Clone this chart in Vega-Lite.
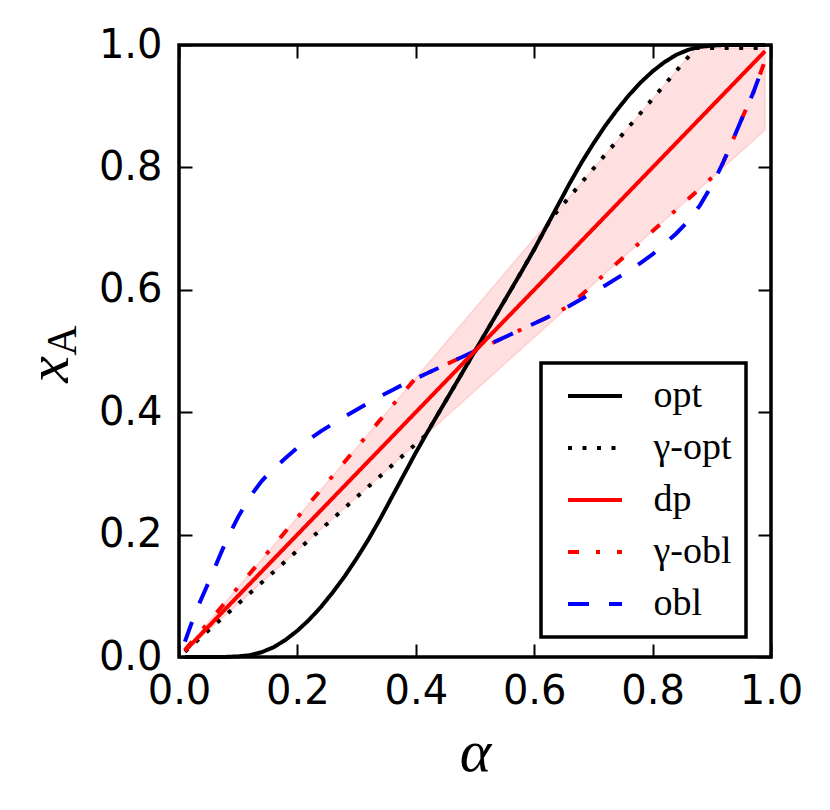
{
  "$schema": "https://vega.github.io/schema/vega-lite/v6.json",
  "width": 592,
  "height": 612,
  "autosize": {"type": "none"},
  "padding": {"left": 179, "top": 45, "right": 59, "bottom": 153},
  "background": "white",
  "config": {
    "view": {"stroke": "black", "strokeWidth": 3.5},
    "axis": {
      "domain": false,
      "grid": false,
      "tickColor": "black",
      "tickWidth": 2,
      "tickSize": -13,
      "labelFont": "DejaVu Sans",
      "labelFontSize": 40,
      "labelColor": "black",
      "titleColor": "black",
      "titleFontWeight": "normal"
    },
    "legend": {
      "title": null,
      "strokeColor": "black",
      "fillColor": "white",
      "cornerRadius": 0,
      "padding": 14,
      "symbolType": "M-2,0H2",
      "symbolSize": 729,
      "symbolStrokeWidth": 4,
      "symbolOffset": 21,
      "labelOffset": 39.5,
      "labelFont": "Liberation Serif",
      "labelFontSize": 38,
      "labelColor": "black",
      "labelLimit": 400,
      "rowPadding": 14
    }
  },
  "datasets": {
    "band": [
      {"x": 0.01, "lo": 0.0087, "hi": 0.0114},
      {"x": 0.5, "lo": 0.435, "hi": 0.57},
      {"x": 0.873, "lo": 0.7595, "hi": 0.995},
      {"x": 0.99, "lo": 0.861, "hi": 0.995}
    ],
    "dpline": [
      {"x": 0.01, "y": 0.01, "s": "dp"},
      {"x": 0.5, "y": 0.5, "s": "dp"},
      {"x": 0.99, "y": 0.99, "s": "dp"}
    ],
    "curves": [
      {"x": 0.01, "y": 0.0, "s": "opt"},
      {"x": 0.05, "y": 0.0, "s": "opt"},
      {"x": 0.08, "y": 0.0002, "s": "opt"},
      {"x": 0.10, "y": 0.001, "s": "opt"},
      {"x": 0.12, "y": 0.003, "s": "opt"},
      {"x": 0.14, "y": 0.008, "s": "opt"},
      {"x": 0.16, "y": 0.016, "s": "opt"},
      {"x": 0.18, "y": 0.028, "s": "opt"},
      {"x": 0.20, "y": 0.043, "s": "opt"},
      {"x": 0.22, "y": 0.061, "s": "opt"},
      {"x": 0.24, "y": 0.082, "s": "opt"},
      {"x": 0.26, "y": 0.106, "s": "opt"},
      {"x": 0.28, "y": 0.132, "s": "opt"},
      {"x": 0.30, "y": 0.161, "s": "opt"},
      {"x": 0.32, "y": 0.192, "s": "opt"},
      {"x": 0.34, "y": 0.226, "s": "opt"},
      {"x": 0.36, "y": 0.262, "s": "opt"},
      {"x": 0.38, "y": 0.298, "s": "opt"},
      {"x": 0.40, "y": 0.334, "s": "opt"},
      {"x": 0.42, "y": 0.368, "s": "opt"},
      {"x": 0.44, "y": 0.401, "s": "opt"},
      {"x": 0.46, "y": 0.434, "s": "opt"},
      {"x": 0.48, "y": 0.467, "s": "opt"},
      {"x": 0.50, "y": 0.5, "s": "opt"},
      {"x": 0.52, "y": 0.533, "s": "opt"},
      {"x": 0.54, "y": 0.566, "s": "opt"},
      {"x": 0.56, "y": 0.599, "s": "opt"},
      {"x": 0.58, "y": 0.632, "s": "opt"},
      {"x": 0.60, "y": 0.666, "s": "opt"},
      {"x": 0.62, "y": 0.702, "s": "opt"},
      {"x": 0.64, "y": 0.738, "s": "opt"},
      {"x": 0.66, "y": 0.774, "s": "opt"},
      {"x": 0.68, "y": 0.808, "s": "opt"},
      {"x": 0.70, "y": 0.839, "s": "opt"},
      {"x": 0.72, "y": 0.868, "s": "opt"},
      {"x": 0.74, "y": 0.894, "s": "opt"},
      {"x": 0.76, "y": 0.918, "s": "opt"},
      {"x": 0.78, "y": 0.939, "s": "opt"},
      {"x": 0.80, "y": 0.957, "s": "opt"},
      {"x": 0.82, "y": 0.972, "s": "opt"},
      {"x": 0.84, "y": 0.984, "s": "opt"},
      {"x": 0.86, "y": 0.992, "s": "opt"},
      {"x": 0.88, "y": 0.997, "s": "opt"},
      {"x": 0.90, "y": 0.999, "s": "opt"},
      {"x": 0.92, "y": 1.0, "s": "opt"},
      {"x": 0.95, "y": 1.0, "s": "opt"},
      {"x": 0.99, "y": 1.0, "s": "opt"},

      {"x": 0.01, "y": 0.0087, "s": "γ-opt"},
      {"x": 0.05, "y": 0.0435, "s": "γ-opt"},
      {"x": 0.10, "y": 0.087, "s": "γ-opt"},
      {"x": 0.20, "y": 0.174, "s": "γ-opt"},
      {"x": 0.30, "y": 0.261, "s": "γ-opt"},
      {"x": 0.40, "y": 0.348, "s": "γ-opt"},
      {"x": 0.415, "y": 0.361, "s": "γ-opt"},
      {"x": 0.42, "y": 0.368, "s": "γ-opt"},
      {"x": 0.44, "y": 0.401, "s": "γ-opt"},
      {"x": 0.46, "y": 0.434, "s": "γ-opt"},
      {"x": 0.48, "y": 0.467, "s": "γ-opt"},
      {"x": 0.50, "y": 0.5, "s": "γ-opt"},
      {"x": 0.52, "y": 0.533, "s": "γ-opt"},
      {"x": 0.54, "y": 0.566, "s": "γ-opt"},
      {"x": 0.56, "y": 0.599, "s": "γ-opt"},
      {"x": 0.58, "y": 0.632, "s": "γ-opt"},
      {"x": 0.60, "y": 0.666, "s": "γ-opt"},
      {"x": 0.62, "y": 0.702, "s": "γ-opt"},
      {"x": 0.63, "y": 0.718, "s": "γ-opt"},
      {"x": 0.70, "y": 0.798, "s": "γ-opt"},
      {"x": 0.80, "y": 0.912, "s": "γ-opt"},
      {"x": 0.873, "y": 0.995, "s": "γ-opt"},
      {"x": 0.90, "y": 0.995, "s": "γ-opt"},
      {"x": 0.99, "y": 0.995, "s": "γ-opt"},

      {"x": 0.01, "y": 0.0114, "s": "γ-obl"},
      {"x": 0.10, "y": 0.114, "s": "γ-obl"},
      {"x": 0.20, "y": 0.228, "s": "γ-obl"},
      {"x": 0.30, "y": 0.342, "s": "γ-obl"},
      {"x": 0.40, "y": 0.456, "s": "γ-obl"},
      {"x": 0.42, "y": 0.464, "s": "γ-obl"},
      {"x": 0.44, "y": 0.473, "s": "γ-obl"},
      {"x": 0.46, "y": 0.482, "s": "γ-obl"},
      {"x": 0.48, "y": 0.491, "s": "γ-obl"},
      {"x": 0.50, "y": 0.5, "s": "γ-obl"},
      {"x": 0.52, "y": 0.509, "s": "γ-obl"},
      {"x": 0.54, "y": 0.518, "s": "γ-obl"},
      {"x": 0.56, "y": 0.527, "s": "γ-obl"},
      {"x": 0.58, "y": 0.536, "s": "γ-obl"},
      {"x": 0.60, "y": 0.545, "s": "γ-obl"},
      {"x": 0.62, "y": 0.554, "s": "γ-obl"},
      {"x": 0.64, "y": 0.564, "s": "γ-obl"},
      {"x": 0.66, "y": 0.574, "s": "γ-obl"},
      {"x": 0.70, "y": 0.609, "s": "γ-obl"},
      {"x": 0.80, "y": 0.696, "s": "γ-obl"},
      {"x": 0.90, "y": 0.783, "s": "γ-obl"},
      {"x": 0.912, "y": 0.793, "s": "γ-obl"},
      {"x": 0.92, "y": 0.81, "s": "γ-obl"},
      {"x": 0.93, "y": 0.832, "s": "γ-obl"},
      {"x": 0.94, "y": 0.855, "s": "γ-obl"},
      {"x": 0.95, "y": 0.878, "s": "γ-obl"},
      {"x": 0.96, "y": 0.90, "s": "γ-obl"},
      {"x": 0.97, "y": 0.922, "s": "γ-obl"},
      {"x": 0.98, "y": 0.948, "s": "γ-obl"},
      {"x": 0.99, "y": 0.975, "s": "γ-obl"},

      {"x": 0.01, "y": 0.025, "s": "obl"},
      {"x": 0.02, "y": 0.052, "s": "obl"},
      {"x": 0.03, "y": 0.078, "s": "obl"},
      {"x": 0.04, "y": 0.10, "s": "obl"},
      {"x": 0.05, "y": 0.122, "s": "obl"},
      {"x": 0.06, "y": 0.145, "s": "obl"},
      {"x": 0.07, "y": 0.168, "s": "obl"},
      {"x": 0.08, "y": 0.19, "s": "obl"},
      {"x": 0.09, "y": 0.21, "s": "obl"},
      {"x": 0.10, "y": 0.229, "s": "obl"},
      {"x": 0.12, "y": 0.262, "s": "obl"},
      {"x": 0.14, "y": 0.288, "s": "obl"},
      {"x": 0.16, "y": 0.308, "s": "obl"},
      {"x": 0.18, "y": 0.325, "s": "obl"},
      {"x": 0.20, "y": 0.342, "s": "obl"},
      {"x": 0.22, "y": 0.356, "s": "obl"},
      {"x": 0.24, "y": 0.369, "s": "obl"},
      {"x": 0.26, "y": 0.381, "s": "obl"},
      {"x": 0.28, "y": 0.393, "s": "obl"},
      {"x": 0.30, "y": 0.404, "s": "obl"},
      {"x": 0.32, "y": 0.415, "s": "obl"},
      {"x": 0.34, "y": 0.426, "s": "obl"},
      {"x": 0.36, "y": 0.436, "s": "obl"},
      {"x": 0.38, "y": 0.446, "s": "obl"},
      {"x": 0.40, "y": 0.455, "s": "obl"},
      {"x": 0.42, "y": 0.464, "s": "obl"},
      {"x": 0.44, "y": 0.473, "s": "obl"},
      {"x": 0.46, "y": 0.482, "s": "obl"},
      {"x": 0.48, "y": 0.491, "s": "obl"},
      {"x": 0.50, "y": 0.5, "s": "obl"},
      {"x": 0.52, "y": 0.509, "s": "obl"},
      {"x": 0.54, "y": 0.518, "s": "obl"},
      {"x": 0.56, "y": 0.527, "s": "obl"},
      {"x": 0.58, "y": 0.536, "s": "obl"},
      {"x": 0.60, "y": 0.545, "s": "obl"},
      {"x": 0.62, "y": 0.554, "s": "obl"},
      {"x": 0.64, "y": 0.564, "s": "obl"},
      {"x": 0.66, "y": 0.574, "s": "obl"},
      {"x": 0.68, "y": 0.585, "s": "obl"},
      {"x": 0.70, "y": 0.596, "s": "obl"},
      {"x": 0.72, "y": 0.607, "s": "obl"},
      {"x": 0.74, "y": 0.619, "s": "obl"},
      {"x": 0.76, "y": 0.631, "s": "obl"},
      {"x": 0.78, "y": 0.644, "s": "obl"},
      {"x": 0.80, "y": 0.658, "s": "obl"},
      {"x": 0.82, "y": 0.675, "s": "obl"},
      {"x": 0.84, "y": 0.692, "s": "obl"},
      {"x": 0.86, "y": 0.712, "s": "obl"},
      {"x": 0.88, "y": 0.738, "s": "obl"},
      {"x": 0.90, "y": 0.771, "s": "obl"},
      {"x": 0.91, "y": 0.79, "s": "obl"},
      {"x": 0.92, "y": 0.81, "s": "obl"},
      {"x": 0.93, "y": 0.832, "s": "obl"},
      {"x": 0.94, "y": 0.855, "s": "obl"},
      {"x": 0.95, "y": 0.878, "s": "obl"},
      {"x": 0.96, "y": 0.90, "s": "obl"},
      {"x": 0.97, "y": 0.922, "s": "obl"},
      {"x": 0.98, "y": 0.948, "s": "obl"},
      {"x": 0.99, "y": 0.975, "s": "obl"}
    ]
  },
  "resolve": {"axis": {"x": "independent", "y": "independent"}},
  "layer": [
    {
      "data": {"name": "band"},
      "mark": {"type": "area", "fill": "#ff0000", "fillOpacity": 0.12, "stroke": "#ff0000", "strokeOpacity": 0.12, "strokeWidth": 1.5},
      "encoding": {
        "x": {
          "field": "x", "type": "quantitative",
          "scale": {"domain": [0, 1], "nice": false, "zero": false},
          "axis": {
            "orient": "bottom",
            "values": [0, 0.2, 0.4, 0.6, 0.8, 1],
            "format": ".1f",
            "labelPadding": 27,
            "labelFlush": false,
            "title": "α",
            "titleFont": "Liberation Serif",
            "titleFontStyle": "italic",
            "titleFontSize": 60,
            "titleBaseline": "alphabetic",
            "titleAlign": "center",
            "titleX": 296,
            "titleY": 113
          }
        },
        "y": {
          "field": "lo", "type": "quantitative",
          "scale": {"domain": [0, 1], "nice": false, "zero": false},
          "axis": {
            "orient": "left",
            "values": [0, 0.2, 0.4, 0.6, 0.8, 1],
            "format": ".1f",
            "labelPadding": 30,
            "labelFlush": false,
            "title": "x",
            "titleFont": "Liberation Serif",
            "titleFontStyle": "italic",
            "titleFontSize": 60,
            "titleAngle": 270,
            "titleBaseline": "alphabetic",
            "titleAlign": "center",
            "titleX": -112,
            "titleY": 324
          }
        },
        "y2": {"field": "hi"}
      }
    },
    {
      "data": {"name": "curves"},
      "mark": {"type": "line", "strokeWidth": 4, "strokeCap": "butt"},
      "encoding": {
        "x": {
          "field": "x", "type": "quantitative",
          "axis": {"orient": "top", "values": [0, 0.2, 0.4, 0.6, 0.8, 1], "labels": false, "title": null}
        },
        "y": {
          "field": "y", "type": "quantitative",
          "axis": {"orient": "right", "values": [0, 0.2, 0.4, 0.6, 0.8, 1], "labels": false, "title": null}
        },
        "color": {
          "field": "s", "type": "nominal",
          "scale": {"domain": ["opt", "γ-opt", "dp", "γ-obl", "obl"], "range": ["#000000", "#000000", "#ff0000", "#ff0000", "#0000ff"]},
          "legend": {"orient": "none", "legendX": 362, "legendY": 318, "title": null,
                     "encode": {"legend": {"update": {"strokeWidth": {"value": 3.5}}}}}
        },
        "strokeDash": {
          "field": "s", "type": "nominal",
          "scale": {"domain": ["opt", "γ-opt", "dp", "γ-obl", "obl"], "range": [[1, 0], [4, 10.5], [1, 0], [11, 17, 4, 17], [21, 20]]},
          "legend": {"orient": "none", "legendX": 362, "legendY": 318, "title": null,
                     "encode": {"legend": {"update": {"strokeWidth": {"value": 3.5}}}}}
        }
      }
    },
    {
      "data": {"name": "dpline"},
      "mark": {"type": "line", "strokeWidth": 4, "strokeCap": "butt"},
      "encoding": {
        "x": {"field": "x", "type": "quantitative", "axis": null},
        "y": {
          "field": "y", "type": "quantitative",
          "axis": {
            "orient": "left", "ticks": false, "labels": false,
            "title": "A",
            "titleFont": "Liberation Serif",
            "titleFontStyle": "normal",
            "titleFontSize": 42,
            "titleAngle": 270,
            "titleBaseline": "alphabetic",
            "titleAlign": "center",
            "titleX": -104,
            "titleY": 295
          }
        },
        "color": {"field": "s", "type": "nominal"},
        "strokeDash": {"field": "s", "type": "nominal"}
      }
    }
  ]
}
